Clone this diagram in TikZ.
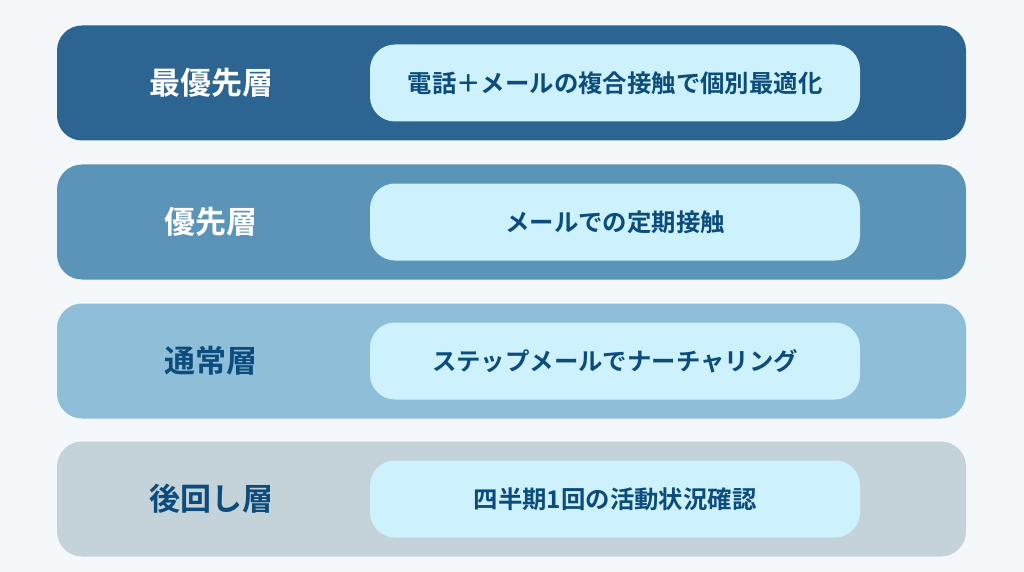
\documentclass[tikz,border=0pt]{standalone}
\usepackage{fontspec}
\newfontfamily\cjk{Noto Sans CJK JP}[BoldFont={Noto Sans CJK JP Bold}]
\usepackage{tikz}
\usetikzlibrary{positioning}

\definecolor{pagebg}{HTML}{F4F8FB}
\definecolor{tierone}{HTML}{2C6591}
\definecolor{tiertwo}{HTML}{5B94B9}
\definecolor{tierthree}{HTML}{8FBED8}
\definecolor{tierfour}{HTML}{C4D3DA}
\definecolor{pillfill}{HTML}{CDF1FD}
\definecolor{deepblue}{HTML}{0B4C7C}

\begin{document}
\begin{tikzpicture}[
    x=1pt, y=-1pt,
    layer/.style={rectangle, rounded corners=25pt, minimum width=909pt, minimum height=115pt, inner sep=0pt},
    pill/.style={rectangle, fill=pillfill, rounded corners=25pt, minimum width=490pt, minimum height=77pt, inner sep=0pt, text=deepblue, font=\cjk\bfseries\fontsize{24.4}{28}\selectfont},
    tier/.style={inner sep=0pt, font=\cjk\bfseries\fontsize{31}{34}\selectfont}
]
\fill[pagebg] (0,0) rectangle (1024,572);
% layer bars
\node[layer, fill=tierone] (first) at (511.5,83) {};
\node[layer, fill=tiertwo] (second) at (511.5,222) {};
\node[layer, fill=tierthree] (third) at (511.5,361) {};
\node[layer, fill=tierfour] (fourth) at (511.5,499) {};
% tier names
\node[tier, text=white] (firstname) at (211,83) {最優先層};
\node[tier, text=white] (secondname) at (211,222) {優先層};
\node[tier, text=deepblue] (thirdname) at (211,361) {通常層};
\node[tier, text=deepblue] (fourthname) at (211,499) {後回し層};
% actions
\node[pill] (firstact) at (615,83) {電話＋メールの複合接触で個別最適化};
\node[pill] (secondact) at (615,222) {メールでの定期接触};
\node[pill] (thirdact) at (615,361) {ステップメールでナーチャリング};
\node[pill] (fourthact) at (615,499) {四半期1回の活動状況確認};
\end{tikzpicture}
\end{document}
